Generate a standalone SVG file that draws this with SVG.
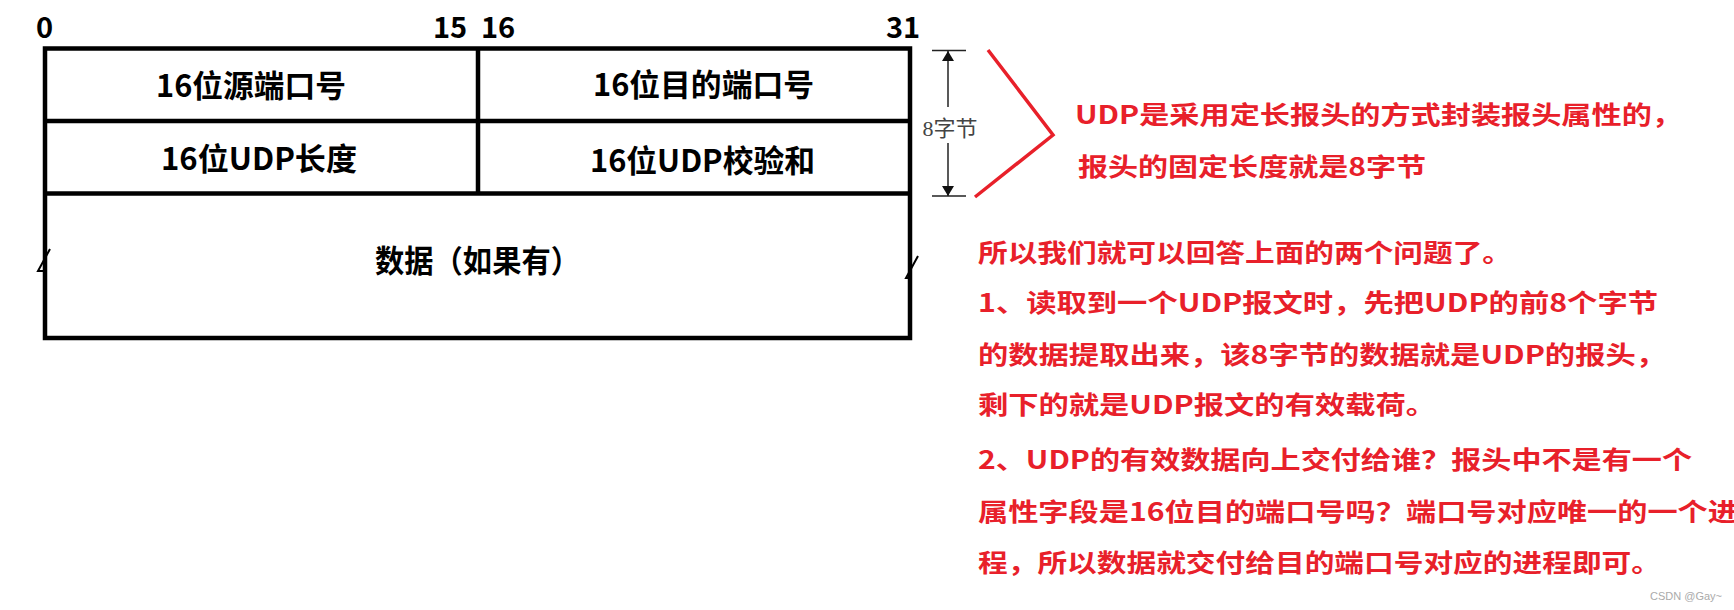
<svg xmlns="http://www.w3.org/2000/svg" width="1734" height="610" viewBox="0 0 1734 610">
<style>
.box{fill:none;stroke:#000;stroke-width:4.5}
.cell{font-family:"Noto Sans CJK SC","Noto Sans",sans-serif;font-weight:700;font-size:31px;fill:#000}
.num{font-family:"Noto Sans CJK SC","Noto Sans",sans-serif;font-weight:700;font-size:29px;fill:#000}
.red{font-family:"Noto Sans CJK SC","Noto Sans",sans-serif;font-weight:700;font-size:25px;fill:#e8202a}
.dim{stroke:#222;stroke-width:1.5;fill:none}
</style>
<defs>
<marker id="ah" viewBox="0 0 10 20" refX="10" refY="10" markerWidth="10" markerHeight="20" markerUnits="userSpaceOnUse" orient="auto">
<path d="M0,4 L10,10 L0,16 z" fill="#111"/>
</marker>
</defs>
<rect width="1734" height="610" fill="#fff"/>

<g id="axis">
<text class="num" x="36" y="38">0</text>
<text class="num" x="433" y="38">15</text>
<text class="num" x="481" y="38">16</text>
<text class="num" x="886" y="38">31</text>
</g>

<g id="frame">
<rect class="box" x="45" y="48.5" width="865" height="289.5"/>
<line class="box" x1="45" y1="121" x2="910" y2="121"/>
<line class="box" x1="45" y1="193.5" x2="910" y2="193.5"/>
<line class="box" x1="478" y1="48.5" x2="478" y2="193.5"/>
</g>

<g id="src-port"><text class="cell" x="156" y="97" textLength="190" lengthAdjust="spacingAndGlyphs">16位源端口号</text></g>
<g id="dst-port"><text class="cell" x="593" y="96" textLength="221" lengthAdjust="spacingAndGlyphs">16位目的端口号</text></g>
<g id="udp-len"><text class="cell" x="161" y="170" textLength="196" lengthAdjust="spacingAndGlyphs">16位UDP长度</text></g>
<g id="udp-sum"><text class="cell" x="590" y="172" textLength="225" lengthAdjust="spacingAndGlyphs">16位UDP校验和</text></g>
<g id="data">
<text class="cell" x="375" y="272" font-size="30" textLength="205" lengthAdjust="spacingAndGlyphs">数据（如果有）</text>
<path d="M50,249 L38,271 L46,271" fill="none" stroke="#000" stroke-width="2"/>
<path d="M918,256 L906,278 L912,278" fill="none" stroke="#000" stroke-width="2"/>
</g>

<g id="connectors">
<line class="dim" x1="932" y1="50.5" x2="966" y2="50.5"/>
<line class="dim" x1="932" y1="196" x2="966" y2="196"/>
<line class="dim" x1="948" y1="107" x2="948" y2="51" marker-end="url(#ah)"/>
<line class="dim" x1="948" y1="143" x2="948" y2="196" marker-end="url(#ah)"/>
<path d="M988,50 L1053,135 L975,197" fill="none" stroke="#e8202a" stroke-width="3.5"/>
</g>

<g id="dim-label">
<text x="950" y="136" text-anchor="middle" font-family="'Liberation Serif','Noto Sans CJK SC',serif" font-size="22" fill="#444">8字节</text>
</g>

<g id="note1">
<text class="red" x="1075" y="124" textLength="607" lengthAdjust="spacingAndGlyphs">UDP是采用定长报头的方式封装报头属性的，</text>
<text class="red" x="1078" y="176" textLength="348" lengthAdjust="spacingAndGlyphs">报头的固定长度就是8字节</text>
</g>

<g id="note2">
<text class="red" x="978" y="262" textLength="534" lengthAdjust="spacingAndGlyphs">所以我们就可以回答上面的两个问题了。</text>
<text class="red" x="978" y="312" textLength="680" lengthAdjust="spacingAndGlyphs">1、读取到一个UDP报文时，先把UDP的前8个字节</text>
<text class="red" x="978" y="364" textLength="688" lengthAdjust="spacingAndGlyphs">的数据提取出来，该8字节的数据就是UDP的报头，</text>
<text class="red" x="978" y="414" textLength="458" lengthAdjust="spacingAndGlyphs">剩下的就是UDP报文的有效载荷。</text>
<text class="red" x="978" y="469" textLength="714" lengthAdjust="spacingAndGlyphs">2、UDP的有效数据向上交付给谁？报头中不是有一个</text>
<text class="red" x="978" y="521" textLength="760" lengthAdjust="spacingAndGlyphs">属性字段是16位目的端口号吗？端口号对应唯一的一个进</text>
<text class="red" x="978" y="572" textLength="683" lengthAdjust="spacingAndGlyphs">程，所以数据就交付给目的端口号对应的进程即可。</text>
</g>

<g id="watermark">
<text x="1722" y="600" text-anchor="end" font-family="'Liberation Sans',sans-serif" font-size="11" fill="#aaa">CSDN @Gay~</text>
</g>
</svg>
